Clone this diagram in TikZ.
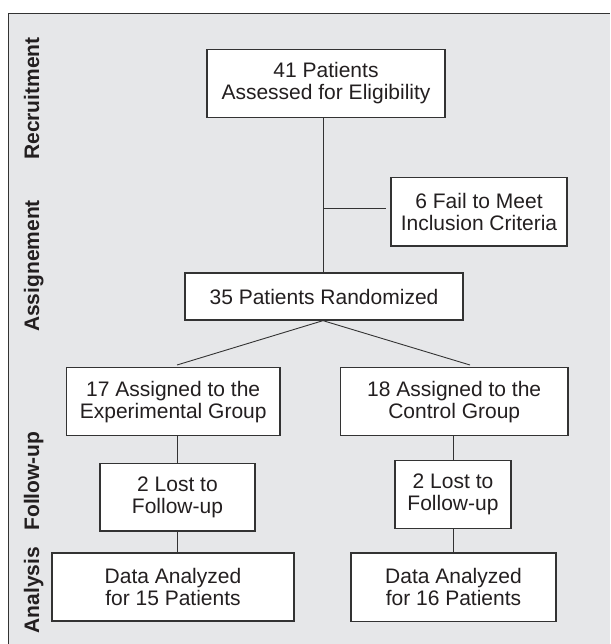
\documentclass[tikz,border=0pt]{standalone}
\usepackage{fontspec}
\setmainfont{Liberation Sans}
\begin{document}
\begin{tikzpicture}[x=1pt,y=-1pt,
  bg/.style={fill=panelgrey},
  box/.style={draw=boxline, line width=1.3pt, fill=white, text=ink, align=center,
    inner sep=0pt, font=\fontsize{21}{22}\selectfont},
  conn/.style={draw=boxline, line width=0.9pt},
  phase/.style={rotate=90, anchor=base, text=ink, font=\fontsize{21}{22}\selectfont\bfseries}]
\definecolor{panelgrey}{HTML}{E6E7E9}
\definecolor{boxline}{HTML}{333333}
\definecolor{ink}{HTML}{231F20}
\useasboundingbox (0,0) rectangle (610,644);
\fill[panelgrey] (8.5,13.3) rectangle (610,644);
\draw[boxline, line width=1.3pt] (8.5,644) -- (8.5,13.3) -- (610,13.3);

% phase labels
\node[phase] (lrec) at (39,98.5) {Recruitment};
\node[phase] (lass) at (39,266) {Assignement};
\node[phase] (lfol) at (39,481) {Follow-up};
\node[phase] (lana) at (39,590) {Analysis};

% boxes
\node[box, minimum width=238pt, minimum height=68.4pt] (b1) at (326,83.5) {41 Patients\\Assessed for Eligibility};
\node[box, minimum width=176pt, minimum height=68.3pt] (b2) at (479,211.8) {6 Fail to Meet\\Inclusion Criteria};
\node[box, minimum width=278pt, minimum height=47pt] (b3) at (324,296.5) {35 Patients Randomized};
\node[box, minimum width=213.5pt, minimum height=68pt] (b4) at (173.2,401.7) {17 Assigned to the\\Experimental Group};
\node[box, minimum width=227.5pt, minimum height=68pt] (b5) at (454.2,401.7) {18 Assigned to the\\Control Group};
\node[box, minimum width=155pt, minimum height=67.7pt] (b6) at (177.5,497.2) {2 Lost to\\Follow-up};
\node[box, minimum width=116pt, minimum height=68.4pt] (b7) at (453,494.5) {2 Lost to\\Follow-up};
\node[box, minimum width=242pt, minimum height=68pt] (b8) at (173,587) {Data Analyzed\\for 15 Patients};
\node[box, minimum width=205pt, minimum height=68.7pt] (b9) at (453.5,587.3) {Data Analyzed\\for 16 Patients};

% connectors
\coordinate (v) at (323,0);
\coordinate (j) at (323,208);
\coordinate (eL) at (177,365);
\coordinate (eR) at (470,365);
\draw[conn] (b1.south -| v) -- (b3.north -| v);
\draw[conn, shorten >=4pt] (j) -- (j -| b2.west);
\draw[conn] (eL) -- (b3.south -| v) -- (eR);
\draw[conn] (b4.south -| b6.center) -- (b6.north);
\draw[conn] (b6.south) -- (b8.north -| b6.center);
\draw[conn] (b5.south -| b7.center) -- (b7.north);
\draw[conn] (b7.south) -- (b9.north -| b7.center);
\end{tikzpicture}
\end{document}
